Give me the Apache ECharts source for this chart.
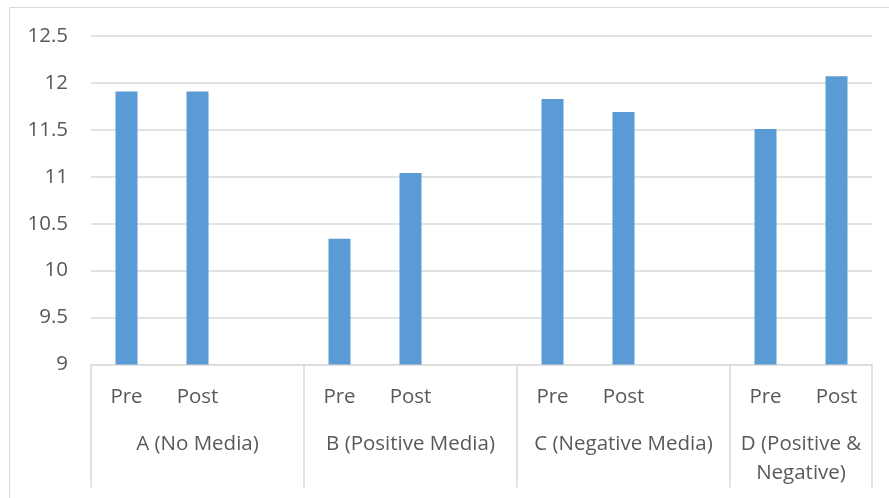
<!DOCTYPE html>
<html>
<head>
<meta charset="utf-8">
<script src="https://cdn.jsdelivr.net/npm/echarts@6/dist/echarts.min.js"></script>
<style>
  html, body { margin: 0; padding: 0; background: #ffffff; }
  #chart { width: 889px; height: 498px; }
</style>
</head>
<body>
<div id="chart"></div>
<script>
// Experimental groups and the two measurement occasions within each
const groupNames = ['A (No Media)', 'B (Positive Media)', 'C (Negative Media)', 'D (Positive &\nNegative)'];
const phaseLabels = ['Pre', 'Post'];

// Mean scores per group
const preScores  = [11.91, 10.34, 11.83, 11.51];
const postScores = [11.91, 11.04, 11.69, 12.07];

// Value axis range
const yMin = 9;
const yMax = 12.5;
const yStep = 0.5;

// Build the flat category list: Pre, Post and a spacer slot after every group but the last
const categories = [];
const values = [];
const groupCenters = {};
const groupStarts = [];
groupNames.forEach(function (name, g) {
  const start = categories.length;
  groupStarts.push(start);
  categories.push(phaseLabels[0]); values.push(preScores[g]);
  categories.push(phaseLabels[1]); values.push(postScores[g]);
  if (g < groupNames.length - 1) { categories.push(''); values.push('-'); }
  const end = categories.length;
  groupCenters[(start + end) / 2] = name;
});

const textColor = '#595959';
const lineColor = '#d9d9d9';
const fontFamily = '"Open Sans", "Noto Sans", sans-serif';
const fontSize = 20.5;

const chart = echarts.init(document.getElementById('chart'), null, { renderer: 'canvas' });
chart.setOption({
  animation: false,
  backgroundColor: '#ffffff',
  graphic: [{
    type: 'rect',
    shape: { x: 9.5, y: 7.5, width: 1000, height: 1000 },
    style: { fill: 'none', stroke: lineColor, lineWidth: 1 },
    silent: true,
    z: -10
  }],
  grid: { left: 91, right: 17, top: 36, bottom: 133.5, containLabel: false },
  xAxis: [{
    type: 'category',
    data: categories,
    axisLine: { show: true, lineStyle: { color: lineColor, width: 1 } },
    axisTick: {
      show: true,
      length: 123,
      interval: function (index) { return groupStarts.indexOf(index) >= 0; },
      lineStyle: { color: lineColor, width: 1.5 }
    },
    axisLabel: {
      interval: 0,
      color: textColor,
      fontFamily: fontFamily,
      fontSize: fontSize,
      margin: 22,
      lineHeight: 22
    },
    splitLine: { show: false }
  }, {
    type: 'value',
    min: 0,
    max: categories.length,
    interval: 0.5,
    position: 'bottom',
    axisLine: { show: false },
    axisTick: { show: false },
    splitLine: { show: false },
    axisLabel: {
      color: textColor,
      fontFamily: fontFamily,
      fontSize: fontSize,
      margin: 65,
      lineHeight: 29,
      verticalAlign: 'top',
      showMinLabel: true,
      showMaxLabel: true,
      formatter: function (v) { return groupCenters[v] || ''; }
    }
  }],
  yAxis: {
    type: 'value',
    min: yMin,
    max: yMax,
    interval: yStep,
    axisLine: { show: false },
    axisTick: { show: false },
    axisLabel: {
      color: textColor,
      fontFamily: fontFamily,
      fontSize: fontSize,
      margin: 23
    },
    splitLine: { lineStyle: { color: lineColor, width: 1.5 } }
  },
  series: [{
    type: 'bar',
    xAxisIndex: 0,
    data: values,
    barWidth: 22,
    itemStyle: { color: '#5b9bd5' }
  }]
});
</script>
</body>
</html>
